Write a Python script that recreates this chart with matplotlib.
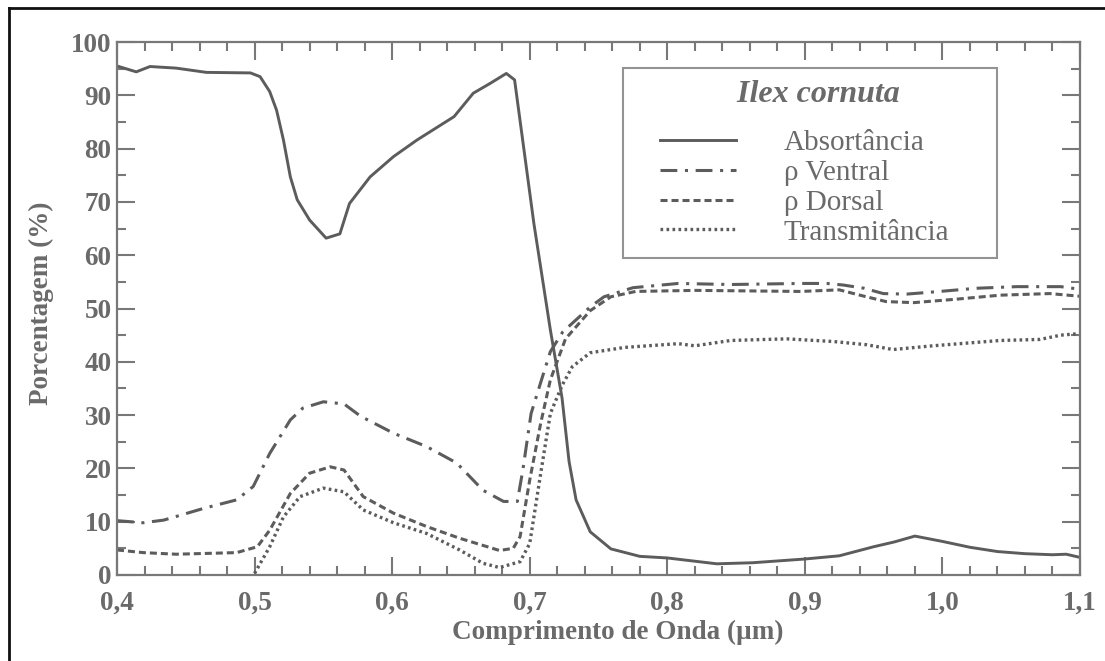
import matplotlib
matplotlib.use('Agg')
import matplotlib.pyplot as plt
from matplotlib.lines import Line2D
from matplotlib.ticker import MultipleLocator, FuncFormatter
from matplotlib.legend_handler import HandlerLine2D

plt.rcParams['font.family'] = ['Liberation Serif', 'DejaVu Serif']

# ---------------- data ----------------
abs_x = [0.400, 0.414, 0.424, 0.443, 0.465, 0.497, 0.504, 0.511, 0.516, 0.521,
         0.526, 0.531, 0.540, 0.552, 0.562, 0.569, 0.584, 0.601, 0.618, 0.645,
         0.659, 0.671, 0.683, 0.689, 0.703, 0.715, 0.7235, 0.7286, 0.7337, 0.744,
         0.759, 0.780, 0.800, 0.836, 0.862, 0.900, 0.925, 0.950, 0.965, 0.980,
         1.000, 1.020, 1.040, 1.060, 1.080, 1.090, 1.100]
abs_y = [95.5, 94.4, 95.4, 95.1, 94.3, 94.2, 93.5, 90.7, 87.2, 81.6,
         74.7, 70.4, 66.6, 63.2, 64.0, 69.7, 74.7, 78.5, 81.6, 86.0,
         90.4, 92.2, 94.1, 92.9, 66.0, 46.0, 33.2, 21.3, 14.1, 8.1,
         4.9, 3.5, 3.2, 2.1, 2.3, 3.0, 3.6, 5.3, 6.2, 7.3,
         6.3, 5.2, 4.4, 4.0, 3.8, 3.9, 3.3]

ven_x = [0.400, 0.419, 0.434, 0.463, 0.487, 0.499, 0.511, 0.526, 0.535, 0.550,
         0.565, 0.577, 0.601, 0.625, 0.647, 0.666, 0.681, 0.691, 0.695, 0.701,
         0.710, 0.715, 0.724, 0.744, 0.754, 0.775, 0.808, 0.846, 0.897, 0.916,
         0.928, 0.943, 0.957, 0.974, 0.998, 1.025, 1.054, 1.086, 1.100]
ven_y = [10.2, 9.8, 10.3, 12.5, 14.1, 16.6, 22.8, 29.1, 31.3, 32.5,
         32.1, 29.8, 26.6, 24.1, 21.0, 15.9, 13.8, 13.8, 19.7, 30.3,
         37.8, 41.9, 45.6, 50.3, 52.2, 53.9, 54.7, 54.5, 54.7, 54.7,
         54.4, 53.8, 52.8, 52.7, 53.2, 53.8, 54.1, 54.1, 53.6]

dor_x = [0.400, 0.419, 0.443, 0.487, 0.502, 0.511, 0.526, 0.540, 0.555, 0.565,
         0.579, 0.601, 0.625, 0.649, 0.678, 0.688, 0.693, 0.700, 0.708, 0.715,
         0.726, 0.744, 0.759, 0.777, 0.820, 0.897, 0.925, 0.940, 0.959, 0.979,
         1.008, 1.042, 1.078, 1.100]
dor_y = [4.7, 4.2, 3.9, 4.2, 5.3, 8.4, 15.3, 19.1, 20.3, 19.7,
         14.7, 11.6, 9.1, 6.9, 4.6, 5.0, 7.2, 17.8, 28.5, 36.6,
         44.3, 49.6, 52.2, 53.2, 53.4, 53.2, 53.5, 52.5, 51.3, 51.1,
         51.7, 52.5, 52.8, 52.3]

tra_x = [0.500, 0.511, 0.521, 0.533, 0.550, 0.565, 0.579, 0.601, 0.625, 0.649,
         0.666, 0.678, 0.693, 0.700, 0.708, 0.715, 0.720, 0.724, 0.731, 0.744,
         0.769, 0.808, 0.820, 0.846, 0.872, 0.887, 0.921, 0.945, 0.964, 0.993,
         1.042, 1.071, 1.086, 1.100]
tra_y = [0.3, 5.3, 10.9, 14.7, 16.3, 15.6, 12.2, 9.8, 7.8, 4.7,
         2.2, 1.4, 2.5, 5.9, 19.1, 30.3, 33.4, 35.8, 39.1, 41.7,
         42.7, 43.4, 43.0, 44.0, 44.2, 44.3, 43.8, 43.2, 42.3, 43.0,
         44.0, 44.2, 45.0, 45.3]

series_labels = ['Absortância', 'ρ Ventral', 'ρ Dorsal', 'Transmitância']
legend_title = 'Ilex cornuta'
x_label = 'Comprimento de Onda (µm)'
y_label = 'Porcentagem (%)'

# ---------------- styling ----------------
TXT = '#6a6a6a'
LN = '#5c5c5c'
SP = '#787878'

W, H = 1105, 661
fig = plt.figure(figsize=(W / 100, H / 100), dpi=100)
L, R, T, B = 117, 1080, 42, 575
ax = fig.add_axes([L / W, 1 - B / H, (R - L) / W, (B - T) / H])

ax.plot(abs_x, abs_y, color=LN, lw=2.1, ls='-', label=series_labels[0])
ax.plot(ven_x, ven_y, color=LN, lw=2.2, ls=(0, (5.5, 2.5, 1.0, 2.5)), label=series_labels[1])
ax.plot(dor_x, dor_y, color=LN, lw=2.2, ls=(0, (2.3, 1.3)), label=series_labels[2])
ax.plot(tra_x, tra_y, color=LN, lw=2.4, ls=(0, (0.8, 1.0)), label=series_labels[3])

ax.set_xlim(0.4, 1.1)
ax.set_ylim(0, 100)
ax.xaxis.set_major_locator(MultipleLocator(0.1))
ax.xaxis.set_minor_locator(MultipleLocator(0.02))
ax.yaxis.set_major_locator(MultipleLocator(10))
ax.yaxis.set_minor_locator(MultipleLocator(5))
ax.xaxis.set_major_formatter(FuncFormatter(lambda v, p: f'{v:.1f}'.replace('.', ',')))
ax.yaxis.set_major_formatter(FuncFormatter(lambda v, p: f'{v:.0f}'))

for s in ax.spines.values():
    s.set_color(SP)
    s.set_linewidth(1.6)

ax.tick_params(which='both', direction='in', top=True, right=True, color=SP, width=1.5)
ax.tick_params(which='major', length=13)
ax.tick_params(which='minor', length=6.5)
ax.tick_params(axis='x', which='major', pad=11, labelsize=19.5, labelcolor=TXT)
ax.tick_params(axis='y', which='major', pad=4, labelsize=19.5, labelcolor=TXT)
for lab in ax.get_xticklabels() + ax.get_yticklabels():
    lab.set_fontweight('bold')

ax.set_xlabel(x_label, fontsize=19.5, fontweight='bold', color=TXT)
ax.set_ylabel(y_label, fontsize=19.5, fontweight='bold', color=TXT)
ax.xaxis.label.set_va('center')
ax.yaxis.label.set_va('center')
ax.xaxis.set_label_coords((618 - L) / (R - L), (B - 632) / (B - T))
ax.yaxis.set_label_coords((41 - L) / (R - L), (B - 303) / (B - T))

# legend
fs = 21
lx0, ly0, lx1, ly1 = 623, 68, 997, 259
hmap = {ln: HandlerLine2D(xpad=0.85) for ln in ax.get_lines()}
leg = ax.legend(loc='upper left',
                bbox_to_anchor=((lx0 - L) / (R - L), (B - ly1) / (B - T),
                                (lx1 - lx0) / (R - L), (ly1 - ly0) / (B - T)),
                mode='expand', borderaxespad=0, borderpad=0.42,
                handlelength=3.45, handletextpad=1.65, labelspacing=0.12,
                fontsize=fs, frameon=True, fancybox=False,
                title='  ' + legend_title,
                title_fontproperties={'size': 23, 'weight': 'bold', 'style': 'italic'},
                handler_map=hmap)
leg._legend_box.sep = 0.5 * fs * 100 / 72
leg.get_frame().set_edgecolor(SP)
leg.get_frame().set_linewidth(1.5)
leg.get_title().set_color(TXT)
for t in leg.get_texts():
    t.set_color(TXT)

# scanned page frame (left and top edges)
fig.add_artist(Line2D([8.5 / W, 8.5 / W], [0, 1 - 8 / H], transform=fig.transFigure, color='#111111', lw=2))
fig.add_artist(Line2D([8.5 / W, 1], [1 - 8 / H, 1 - 8 / H], transform=fig.transFigure, color='#111111', lw=2))

fig.savefig('out.png', dpi=100, facecolor='white')
